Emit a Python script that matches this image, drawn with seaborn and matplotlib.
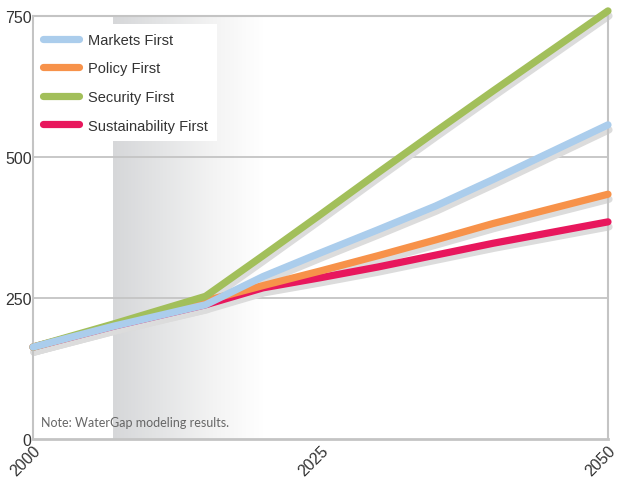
import numpy as np
import pandas as pd
import seaborn as sns
import matplotlib.pyplot as plt
import matplotlib.transforms as mtransforms
from matplotlib.colors import LinearSegmentedColormap

years = [2000, 2007, 2015, 2020, 2025, 2030, 2035, 2040, 2050]
markets = [163, 200, 238, 288, 330, 371, 413, 460, 557]
policy = [163, 201, 245, 272, 298, 325, 353, 382, 434]
security = [163, 204, 253, 325, 398, 472, 545, 617, 759]
sustainability = [163, 200, 238, 268, 286, 305, 326, 347, 385]

scenarios = ['Markets First', 'Policy First', 'Security First', 'Sustainability First']
colors = ['#abcdec', '#f7924a', '#a2bf5a', '#e8175d']
ytick_vals = [0, 250, 500, 750]
xtick_vals = [2000, 2025, 2050]

df = pd.DataFrame({'year': years * 4,
                   'value': markets + policy + security + sustainability,
                   'scenario': np.repeat(scenarios, len(years))})

sns.set_theme(style='white')
plt.rcParams['font.family'] = ['Liberation Sans', 'DejaVu Sans']

fig = plt.figure(figsize=(6.18, 4.81), dpi=100)
ax = fig.add_axes([0.0534, 0.0852, 0.9304, 0.8795])

# shaded band with gradient
cmap = LinearSegmentedColormap.from_list('band', ['#d6d7d9', '#e4e5e6', '#f3f3f3', '#ffffff'])
grad = np.linspace(0, 1, 256).reshape(1, -1)
ax.imshow(grad, extent=[2007, 2020, 0, 750], aspect='auto', cmap=cmap, zorder=0)

for y in ytick_vals[1:]:
    ax.axhline(y, color='#c4c4c4', lw=1.3, zorder=1)

# drop shadows
offset = mtransforms.ScaledTranslation(1 / 100, -5 / 100, fig.dpi_scale_trans)
n0 = len(ax.lines)
sns.lineplot(data=df, x='year', y='value', units='scenario', estimator=None,
             color='#dcdcdc', lw=5.2, legend=False, ax=ax, zorder=2)
for ln in ax.lines[n0:]:
    ln.set_transform(ax.transData + offset)
    ln.set_clip_on(False)

order = ['Sustainability First', 'Policy First', 'Security First', 'Markets First']
for i, s in enumerate(order):
    sub = df[df['scenario'] == s]
    sns.lineplot(data=sub, x='year', y='value', color=colors[scenarios.index(s)],
                 lw=5.2, ax=ax, zorder=3 + i, label=s, clip_on=False)

ax.set_xlim(2000, 2050)
ax.set_ylim(0, 750)
ax.set_xticks(xtick_vals)
ax.set_yticks(ytick_vals)
ax.tick_params(axis='both', length=0, pad=1)
ax.set_xticklabels([str(v) for v in xtick_vals], rotation=45, fontsize=11.5,
                   color='#333333', ha='center', va='top')
ax.set_yticklabels([str(v) for v in ytick_vals], fontsize=11.5, color='#333333')
lbl_shift = mtransforms.ScaledTranslation(-7 / 100, -2 / 100, fig.dpi_scale_trans)
for lbl in ax.get_xticklabels():
    lbl.set_transform(lbl.get_transform() + lbl_shift)
ax.set_xlabel('')
ax.set_ylabel('')
for sp in ax.spines.values():
    sp.set_color('#c4c4c4')
    sp.set_linewidth(1.5)
ax.spines['bottom'].set_linewidth(2)

handles, labels = ax.get_legend_handles_labels()
hmap = dict(zip(labels, handles))
leg = ax.legend([hmap[s] for s in scenarios], scenarios, loc='upper left',
                bbox_to_anchor=(0.002, 0.981), frameon=True, fancybox=False,
                facecolor='white', edgecolor='none', framealpha=1,
                fontsize=10.5, handlelength=2.5, handletextpad=0.6,
                labelspacing=1.0, borderpad=0.6, borderaxespad=0)
leg.set_zorder(10)
for t in leg.get_texts():
    t.set_color('#333333')

ax.text(0.014, 0.03, 'Note: WaterGap modeling results.', transform=ax.transAxes,
        fontsize=9, color='#666666', family=['Lato', 'DejaVu Sans'], zorder=10)

fig.savefig('out.png', dpi=100)
